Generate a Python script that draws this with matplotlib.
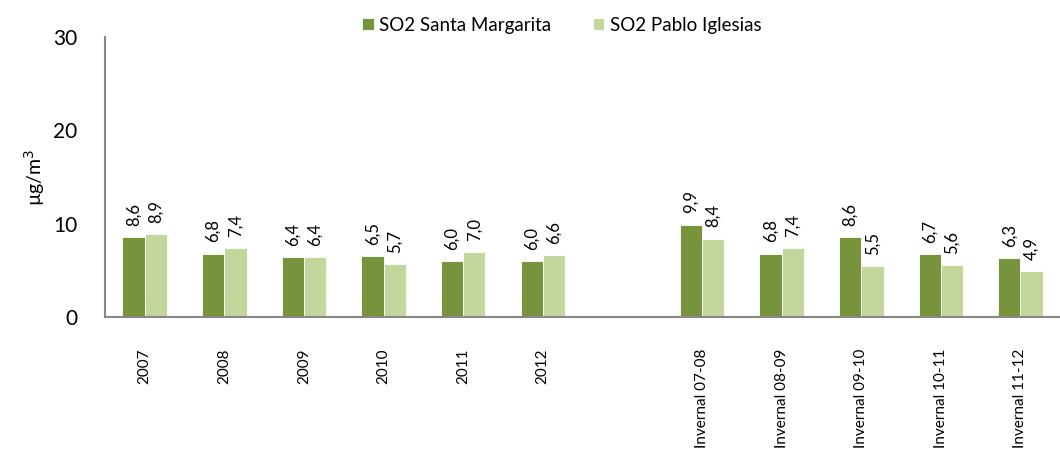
import matplotlib
matplotlib.use("Agg")
import matplotlib.pyplot as plt
import numpy as np

categories = ["2007", "2008", "2009", "2010", "2011", "2012", "",
              "Invernal 07-08", "Invernal 08-09", "Invernal 09-10",
              "Invernal 10-11", "Invernal 11-12"]
santa_margarita = [8.6, 6.8, 6.4, 6.5, 6.0, 6.0, None, 9.9, 6.8, 8.6, 6.7, 6.3]
pablo_iglesias = [8.9, 7.4, 6.4, 5.7, 7.0, 6.6, None, 8.4, 7.4, 5.5, 5.6, 4.9]
series_names = ["SO2 Santa Margarita", "SO2 Pablo Iglesias"]
colors = ["#77933C", "#C3D69B"]

plt.rcParams['font.family'] = ['Lato', 'DejaVu Sans']

fig = plt.figure(figsize=(10.6, 4.5), dpi=100)
ax = fig.add_axes([0.099, 0.2956, 0.901 + 0.02, 0.6222])

x = np.arange(len(categories))
w = 0.28
for i, (vals, name, c) in enumerate(zip([santa_margarita, pablo_iglesias], series_names, colors)):
    xs = [xi for xi, v in zip(x, vals) if v is not None]
    vs = [v for v in vals if v is not None]
    off = (i - 0.5) * w
    ax.bar(np.array(xs) + off, vs, width=w, color=c, label=name,
           edgecolor="white", linewidth=0.6)
    for xi, v in zip(xs, vs):
        ax.annotate(f"{v:.1f}".replace(".", ","), (xi + off, v),
                    xytext=(0, 8), textcoords="offset points",
                    rotation=90, ha="center", va="bottom", fontsize=12)

ax.set_ylim(0, 30)
ax.set_yticks([0, 10, 20, 30])
ax.set_xlim(-0.5, 11.5 + 0.02 * 10.6 * 100 / 80.6)
ax.set_xticks(x)
ax.set_xticklabels(categories, rotation=90, fontsize=11, va="top")
ax.tick_params(axis="x", length=0, pad=23)
ax.tick_params(axis="y", length=0, labelsize=15, pad=20)
for s in ["top", "right"]:
    ax.spines[s].set_visible(False)
for s in ["left", "bottom"]:
    ax.spines[s].set_color("#888888")
    ax.spines[s].set_linewidth(1.5)
ax.set_ylabel("µg/m$^3$", fontsize=14, labelpad=4)

fig.legend(loc="upper center", bbox_to_anchor=(0.53, 1.0), ncol=2, frameon=False,
           fontsize=13.5, handlelength=0.6, handleheight=0.6, handletextpad=0.3,
           columnspacing=2.2)

fig.savefig("out.png", dpi=100)
